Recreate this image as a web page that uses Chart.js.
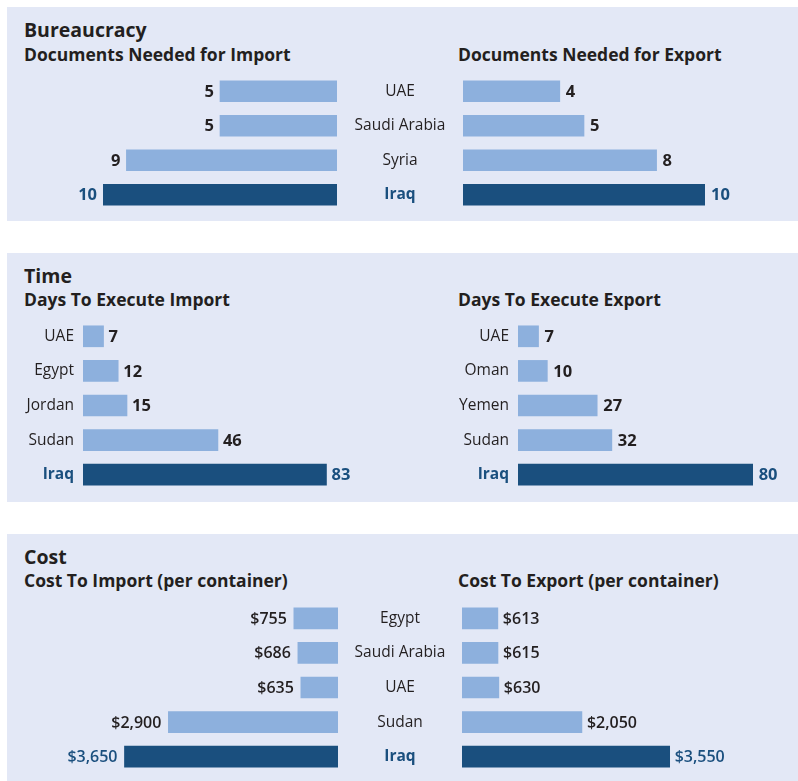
<!DOCTYPE html>
<html>
<head>
<meta charset="utf-8">
<title>Trade Barriers</title>
<script src="https://cdn.jsdelivr.net/npm/chart.js@4/dist/chart.umd.min.js"></script>
<style>
  html, body { margin: 0; padding: 0; background: #ffffff; }
  #page { position: relative; width: 798px; height: 781px; overflow: hidden; font-family: "Open Sans", Lato, sans-serif; color: #231f20; }
  .panel { position: absolute; left: 7px; width: 791px; background: #e3e8f6; }
  .title { position: absolute; font-weight: 700; font-size: 19.5px; line-height: 27px; white-space: nowrap; }
  .sub { position: absolute; font-weight: 700; font-size: 17.5px; line-height: 22px; white-space: nowrap; }
  canvas { position: absolute; }
</style>
</head>
<body>
<div id="page">
  <div class="panel" style="top:7px;height:214px"></div>
  <div class="panel" style="top:253px;height:249px"></div>
  <div class="panel" style="top:534px;height:247px"></div>

  <div class="title" style="left:24px;top:16px">Bureaucracy</div>
  <div class="sub" style="left:24px;top:43px">Documents Needed for Import</div>
  <div class="sub" style="left:458px;top:43px">Documents Needed for Export</div>

  <div class="title" style="left:24px;top:262px">Time</div>
  <div class="sub" style="left:24px;top:288px">Days To Execute Import</div>
  <div class="sub" style="left:458px;top:288px">Days To Execute Export</div>

  <div class="title" style="left:24px;top:543px">Cost</div>
  <div class="sub" style="left:24px;top:569px">Cost To Import (per container)</div>
  <div class="sub" style="left:458px;top:569px">Cost To Export (per container)</div>

  <canvas id="docsImport"></canvas>
  <canvas id="docsExport"></canvas>
  <canvas id="daysImport"></canvas>
  <canvas id="daysExport"></canvas>
  <canvas id="costImport"></canvas>
  <canvas id="costExport"></canvas>
</div>
<script>
// Bureaucracy: documents needed
const docsCountries = ['UAE', 'Saudi Arabia', 'Syria', 'Iraq'];
const docsImport = [5, 5, 9, 10];
const docsExport = [4, 5, 8, 10];

// Time: days to execute
const daysImportCountries = ['UAE', 'Egypt', 'Jordan', 'Sudan', 'Iraq'];
const daysImport = [7, 12, 15, 46, 83];
const daysExportCountries = ['UAE', 'Oman', 'Yemen', 'Sudan', 'Iraq'];
const daysExport = [7, 10, 27, 32, 80];

// Cost per container (US$)
const costCountries = ['Egypt', 'Saudi Arabia', 'UAE', 'Sudan', 'Iraq'];
const costImport = [755, 686, 635, 2900, 3650];
const costExport = [613, 615, 630, 2050, 3550];

const FOCUS = 'Iraq';
const LIGHT = '#8db0dd';
const DARK = '#1a4f7e';
const INK = '#231f20';
const FONT = '"Open Sans"';
const TICK_SIZE = 15.5;

const plainFmt = v => String(v);
const dollarFmt = v => '$' + v.toLocaleString('en-US');

// Draws each bar's value just beyond the bar's end
const valueLabels = {
  id: 'valueLabels',
  afterDatasetsDraw(chart, args, opts) {
    const ctx = chart.ctx;
    const labels = chart.data.labels;
    const rev = chart.options.scales.x.reverse;
    chart.getDatasetMeta(0).data.forEach((bar, i) => {
      const v = chart.data.datasets[0].data[i];
      const focus = labels[i] === FOCUS;
      ctx.save();
      ctx.font = `${opts.weight} ${opts.size}px ${FONT}`;
      ctx.fillStyle = focus ? DARK : INK;
      ctx.textBaseline = 'middle';
      ctx.textAlign = rev ? 'right' : 'left';
      ctx.fillText(opts.format(v), rev ? bar.x - opts.gap : bar.x + opts.gap, bar.y + 1);
      ctx.restore();
    });
  }
};

function tickFont(ctx) {
  const focus = ctx.tick && ctx.tick.label === FOCUS;
  return { family: FONT, size: TICK_SIZE, weight: focus ? 'bold' : 'normal' };
}
function tickColor(ctx) {
  return ctx.tick && ctx.tick.label === FOCUS ? DARK : INK;
}
function textWidth(labels) {
  const c = document.createElement('canvas').getContext('2d');
  return Math.max(...labels.map(l => {
    c.font = `${l === FOCUS ? 'bold' : 'normal'} ${TICK_SIZE}px ${FONT}`;
    return c.measureText(l).width;
  }));
}

// cfg: id, left, top, width, height, labels, data, max, reverse,
// padL, padR, axis ('none' | 'near' | 'center'), axisW, tickPad, format, weight, size, gap
function barChart(cfg) {
  const cv = document.getElementById(cfg.id);
  cv.width = cfg.width;
  cv.height = cfg.height;
  cv.style.left = cfg.left + 'px';
  cv.style.top = cfg.top + 'px';
  let tickPad = cfg.tickPad || 0;
  if (cfg.axis === 'center') {
    tickPad = cfg.axisW / 2 - textWidth(cfg.labels) / 2;
  }
  return new Chart(cv, {
    type: 'bar',
    data: {
      labels: cfg.labels,
      datasets: [{
        data: cfg.data,
        backgroundColor: c => cfg.labels[c.dataIndex] === FOCUS ? DARK : LIGHT,
        borderWidth: 0,
        barThickness: 21
      }]
    },
    options: {
      indexAxis: 'y',
      responsive: false,
      animation: false,
      events: [],
      layout: { padding: { left: cfg.padL || 0, right: cfg.padR || 0, top: 0, bottom: 0 } },
      plugins: {
        legend: { display: false },
        tooltip: { enabled: false },
        valueLabels: { format: cfg.format, weight: cfg.weight, size: cfg.size, gap: cfg.gap }
      },
      scales: {
        x: { display: false, min: 0, max: cfg.max, reverse: !!cfg.reverse },
        y: {
          display: cfg.axis !== 'none',
          position: 'left',
          grid: { display: false, drawTicks: false },
          border: { display: false },
          ticks: {
            font: tickFont,
            color: tickColor,
            padding: tickPad,
            crossAlign: cfg.axis === 'center' ? 'center' : 'near'
          },
          afterFit: s => {
            if (cfg.axisW) s.width = cfg.axisW;
            // rows fill the whole canvas height
            s.paddingTop = 0;
            s.paddingBottom = 0;
          }
        }
      }
    },
    plugins: [valueLabels]
  });
}

// Bureaucracy
barChart({ id: 'docsImport', left: 7, top: 74, width: 330, height: 138,
  labels: docsCountries, data: docsImport, max: 10, reverse: true,
  padL: 96, axis: 'none', format: plainFmt, weight: 'bold', size: 16.5, gap: 6 });
barChart({ id: 'docsExport', left: 337, top: 74, width: 461, height: 138,
  labels: docsCountries, data: docsExport, max: 10,
  padR: 93, axis: 'center', axisW: 126, format: plainFmt, weight: 'bold', size: 16.5, gap: 6 });

// Time
barChart({ id: 'daysImport', left: 7, top: 319, width: 393, height: 173,
  labels: daysImportCountries, data: daysImport, max: 90,
  padR: 53, axis: 'near', axisW: 76, tickPad: 9, format: plainFmt, weight: 'bold', size: 16.5, gap: 5 });
barChart({ id: 'daysExport', left: 400, top: 319, width: 398, height: 173,
  labels: daysExportCountries, data: daysExport, max: 90,
  padR: 16, axis: 'near', axisW: 118, tickPad: 9, format: plainFmt, weight: 'bold', size: 16.5, gap: 6 });

// Cost
barChart({ id: 'costImport', left: 7, top: 601, width: 331, height: 173,
  labels: costCountries, data: costImport, max: 4000, reverse: true,
  padL: 97, axis: 'none', format: dollarFmt, weight: '600', size: 16, gap: 7 });
barChart({ id: 'costExport', left: 338, top: 601, width: 460, height: 173,
  labels: costCountries, data: costExport, max: 4000,
  padR: 102, axis: 'center', axisW: 124, format: dollarFmt, weight: '600', size: 16, gap: 5 });
</script>
</body>
</html>
